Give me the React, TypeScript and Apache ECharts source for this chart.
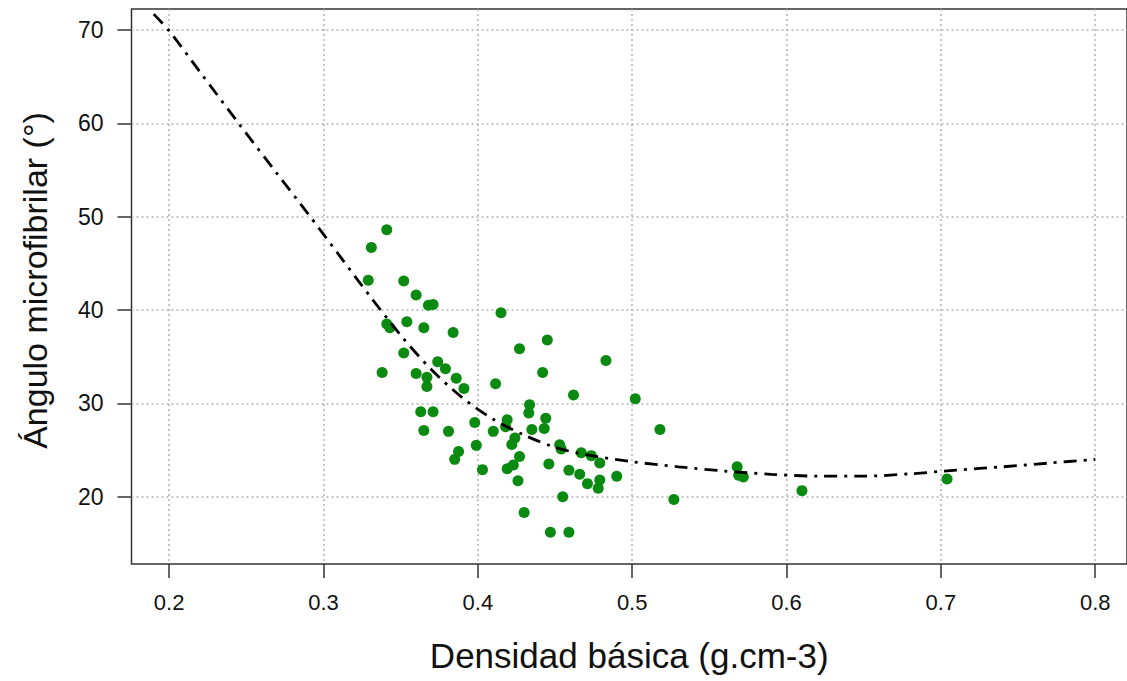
import React, { useEffect, useRef } from "react";
import * as echarts from "echarts";

// Scatter data: basic density (g.cm-3) vs microfibril angle (°)
const densidad = [
  0.341, 0.331, 0.329, 0.352, 0.36, 0.368, 0.371, 0.341, 0.343, 0.354,
  0.365, 0.384, 0.352, 0.374, 0.379, 0.338, 0.36, 0.367, 0.386, 0.367,
  0.391, 0.363, 0.371, 0.398, 0.365, 0.381, 0.399, 0.3875, 0.385, 0.403,
  0.415, 0.445, 0.427, 0.483, 0.442, 0.4115, 0.462, 0.502, 0.4335, 0.433,
  0.419, 0.418, 0.444, 0.41, 0.435, 0.443, 0.424, 0.422, 0.453, 0.454,
  0.427, 0.467, 0.4735, 0.479, 0.446, 0.419, 0.423, 0.459, 0.466, 0.471,
  0.479, 0.478, 0.49, 0.426, 0.455, 0.43, 0.447, 0.459, 0.518, 0.527,
  0.568, 0.569, 0.572, 0.61, 0.704,
];
const angulo = [
  48.6, 46.7, 43.2, 43.1, 41.6, 40.5, 40.6, 38.5, 38.1, 38.75,
  38.1, 37.6, 35.4, 34.45, 33.7, 33.3, 33.2, 32.8, 32.7, 31.8,
  31.6, 29.1, 29.1, 27.96, 27.1, 27.0, 25.5, 24.84, 24.0, 22.9,
  39.7, 36.8, 35.85, 34.6, 33.3, 32.1, 30.9, 30.5, 29.86, 28.97,
  28.25, 27.5, 28.4, 27.0, 27.2, 27.3, 26.3, 25.6, 25.56, 25.1,
  24.3, 24.7, 24.4, 23.6, 23.5, 23.0, 23.4, 22.84, 22.4, 21.4,
  21.8, 20.9, 22.2, 21.7, 20.0, 18.3, 16.2, 16.2, 27.2, 19.7,
  23.2, 22.3, 22.1, 20.65, 21.9,
];

// Fitted curve
const curvaX = [
  0.19, 0.2, 0.22, 0.245, 0.27, 0.29, 0.31, 0.33, 0.35, 0.37, 0.39, 0.41,
  0.43, 0.45, 0.47, 0.5, 0.53, 0.56, 0.59, 0.62, 0.65, 0.68, 0.71, 0.74,
  0.77, 0.8,
];
const curvaY = [
  71.7, 69.9, 65.5, 60.0, 54.6, 50.3, 45.9, 41.5, 37.3, 33.6, 30.6, 28.3,
  26.6, 25.3, 24.5, 23.75, 23.2, 22.75, 22.4, 22.2, 22.2, 22.45, 22.85, 23.2,
  23.6, 24.0,
];

const xTicks = [0.2, 0.3, 0.4, 0.5, 0.6, 0.7, 0.8];
const yTicks = [20, 30, 40, 50, 60, 70];

const xTitle = "Densidad básica (g.cm-3)";
const yTitle = "Ángulo microfibrilar (°)";

export default function App() {
  const ref = useRef<HTMLDivElement>(null);

  useEffect(() => {
    if (!ref.current) return;
    const chart = echarts.init(ref.current, null, { renderer: "svg" });
    const font = "'Liberation Sans', Arial, Helvetica, sans-serif";
    const gridLine = {
      show: true,
      lineStyle: { color: "#b3b3b3", width: 1.5, type: [2, 3] as any },
    };
    chart.setOption({
      animation: false,
      backgroundColor: "#ffffff",
      grid: {
        left: 131.5,
        right: -4,
        top: 9,
        bottom: 117,
        show: true,
        borderColor: "#333333",
        borderWidth: 1.5,
        backgroundColor: "transparent",
      },
      xAxis: {
        type: "value",
        min: 0.1756,
        max: 0.8206,
        minInterval: 0.1,
        maxInterval: 0.1,
        axisLine: { show: false },
        axisTick: {
          show: true,
          length: 14,
          inside: false,
          customValues: xTicks,
          lineStyle: { color: "#333333", width: 1.5 },
        },
        axisLabel: {
          show: true,
          customValues: xTicks,
          margin: 27,
          fontSize: 22,
          color: "#111111",
          fontFamily: font,
          formatter: (v: number) => String(Math.round(v * 10) / 10),
        },
        splitLine: gridLine,
        name: xTitle,
        nameLocation: "middle",
        nameGap: 74,
        nameTextStyle: { fontSize: 35, color: "#111111", fontFamily: font },
      },
      yAxis: {
        type: "value",
        min: 12.79,
        max: 72.25,
        minInterval: 10,
        maxInterval: 10,
        axisLine: { show: false },
        axisTick: {
          show: true,
          length: 14,
          inside: false,
          customValues: yTicks,
          lineStyle: { color: "#333333", width: 1.5 },
        },
        axisLabel: {
          show: true,
          customValues: yTicks,
          margin: 28,
          fontSize: 23,
          color: "#111111",
          fontFamily: font,
        },
        splitLine: gridLine,
        name: yTitle,
        nameLocation: "middle",
        nameRotate: 90,
        nameGap: 80,
        nameTextStyle: { fontSize: 34, color: "#111111", fontFamily: font, padding: [0, 0, 0, 12] },
      },
      series: [
        {
          type: "scatter",
          data: densidad.map((d, i) => [d, angulo[i]]),
          symbol: "circle",
          symbolSize: 11,
          itemStyle: { color: "#0a8a10", opacity: 1 },
          z: 3,
        },
        {
          type: "line",
          data: curvaX.map((d, i) => [d, curvaY[i]]),
          showSymbol: false,
          smooth: 0.3,
          lineStyle: { color: "#000000", width: 2.8, type: [13, 7, 3, 7] as any },
          z: 4,
        },
      ],
    });
    return () => chart.dispose();
  }, []);

  return (
    <div
      ref={ref}
      style={{ position: "fixed", left: 0, top: 0, width: 1127, height: 681, background: "#fff" }}
    />
  );
}
